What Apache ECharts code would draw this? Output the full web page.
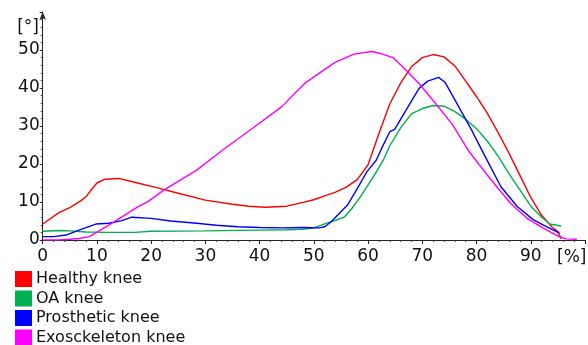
<!DOCTYPE html>
<html>
<head>
<meta charset="utf-8">
<script src="https://cdn.jsdelivr.net/npm/echarts@6/dist/echarts.min.js"></script>
<style>
  html, body { margin: 0; padding: 0; background: #fff; }
  #chart { width: 588px; height: 345px; }
</style>
</head>
<body>
<div id="chart"></div>
<script>
// knee angle over the gait cycle
const seriesNames = ["Healthy knee", "OA knee", "Prosthetic knee", "Exosckeleton knee"];
const seriesColors = ["#ff0000", "#00b050", "#0000ff", "#ff00ff"];

const healthyX = [0, 3, 5, 7, 8, 9, 10, 11.5, 14, 17.5, 21, 25, 30, 35, 38, 41, 45, 48, 50, 52, 54, 56, 58, 60, 62, 64, 66, 68, 70, 72, 74, 76, 78, 80, 82, 84, 86, 88, 90, 92, 94, 95, 95.6];
const healthyY = [4.2, 7.2, 8.5, 10.3, 11.4, 13.3, 15.0, 16.0, 16.2, 15.0, 13.8, 12.3, 10.5, 9.4, 8.9, 8.6, 8.9, 9.9, 10.6, 11.6, 12.6, 13.9, 15.9, 19.8, 28.0, 35.8, 41.3, 45.6, 48.0, 48.8, 48.2, 45.8, 41.8, 37.7, 33.3, 28.2, 22.8, 17.0, 11.2, 6.5, 3.3, 2.2, 0.3];

const oaX = [0, 3, 5, 8, 12, 17, 20, 30, 40, 45, 48, 50, 52.5, 54, 55.6, 57, 58.6, 60, 61, 62.8, 64, 66, 68, 70, 72, 74, 76, 78, 80, 82, 84, 86, 88, 90, 92, 93.5, 95.6];
const oaY = [2.3, 2.5, 2.4, 2.1, 2.0, 2.0, 2.3, 2.4, 2.6, 2.7, 2.8, 3.2, 4.5, 5.2, 6.0, 8.3, 11.4, 14.5, 16.7, 21.0, 24.8, 29.5, 33.2, 34.6, 35.4, 35.2, 33.8, 31.8, 29.3, 26.0, 22.0, 17.4, 13.2, 8.9, 6.0, 4.2, 3.7];

const protX = [0, 2, 4.3, 6.7, 9.8, 12.2, 14.6, 16.4, 20, 23.6, 28.4, 32, 36, 40, 44, 48, 51, 52, 53.2, 54.5, 56.2, 58, 59.8, 61.5, 62.5, 64, 64.9, 67, 69.4, 71, 73, 74.2, 76.7, 79.1, 79.7, 81.5, 84.5, 87.5, 90.5, 92.9, 95.3];
const protY = [0.9, 0.9, 1.3, 2.6, 4.2, 4.4, 5.1, 6.0, 5.7, 5.0, 4.4, 3.9, 3.5, 3.3, 3.2, 3.3, 3.2, 3.5, 4.8, 6.7, 9.2, 13.5, 18.0, 21.0, 24.1, 28.5, 29.1, 34.2, 39.9, 41.8, 42.8, 41.5, 35.1, 28.9, 27.2, 22.2, 14.0, 8.8, 5.3, 3.5, 1.8];

const exoX = [0, 3, 5, 6.7, 8.6, 12.2, 17.6, 19.4, 22.4, 28.4, 33, 38.7, 44.1, 46.5, 48.3, 51.4, 54, 57.4, 60.7, 62.5, 64.6, 67, 69.4, 72.4, 75.5, 78.5, 82.7, 86.3, 89.3, 92.3, 95.2, 96.5, 98.5];
const exoY = [0, 0, 0.2, 0.4, 0.9, 3.9, 8.8, 10.1, 13.2, 18.4, 23.5, 29.4, 35.1, 38.6, 41.2, 44.3, 46.8, 48.9, 49.6, 49.0, 48.0, 44.7, 41.2, 36.0, 30.5, 23.5, 15.8, 9.6, 5.7, 3.1, 0.9, 0.3, 0.2];

const xTickStep = 10;
const yTickStep = 10;

const FONT = "DejaVu Sans";

let pairUp = (xs, ys) => xs.map((x, i) => [x, ys[i]]);

const allData = [
  pairUp(healthyX, healthyY),
  pairUp(oaX, oaY),
  pairUp(protX, protY),
  pairUp(exoX, exoY),
];

const chart = echarts.init(document.getElementById("chart"), null, { renderer: "canvas" });

chart.setOption({
  animation: false,
  backgroundColor: "#fff",
  grid: { left: 42.7, right: -7.7, top: 12, bottom: 105 },
  xAxis: {
    type: "value",
    min: 0,
    max: 100,
    interval: xTickStep,
    axisLine: { lineStyle: { color: "#222", width: 1 } },
    axisTick: { length: 4, lineStyle: { color: "#222" } },
    minorTick: { show: true, splitNumber: 5, length: 2, lineStyle: { color: "#444" } },
    splitLine: { show: false },
    axisLabel: {
      margin: 8,
      color: "#111",
      fontFamily: FONT,
      fontSize: 17,
      formatter: (v) => (v >= 100 ? "" : String(v)),
    },
  },
  yAxis: {
    type: "value",
    min: 0,
    max: 60,
    interval: yTickStep,
    axisLine: {
      show: true,
      symbol: ["none", "arrow"],
      symbolSize: [5, 8],
      lineStyle: { color: "#222", width: 1 },
    },
    axisTick: { show: true, length: 3, lineStyle: { color: "#222" } },
    minorTick: { show: true, splitNumber: 5, length: 2, lineStyle: { color: "#444" } },
    splitLine: { show: false },
    axisLabel: {
      margin: 3,
      color: "#111",
      fontFamily: FONT,
      fontSize: 17,
      showMaxLabel: false,
    },
  },
  legend: {
    orient: "vertical",
    left: 15,
    top: 271,
    height: 120,
    padding: 0,
    icon: "rect",
    itemWidth: 17,
    itemHeight: 16,
    itemGap: 3.5,
    textStyle: { color: "#111", fontFamily: FONT, fontSize: 16, padding: [0, 0, 0, -1] },
    data: seriesNames,
  },
  graphic: [
    {
      type: "text",
      right: 588 - 39,
      top: 19,
      style: { text: "[°]", fill: "#111", font: "17px 'DejaVu Sans'" },
    },
    {
      type: "text",
      left: 557,
      top: 249,
      style: { text: "[%]", fill: "#111", font: "17px 'DejaVu Sans'" },
    },
  ],
  series: allData.map((d, i) => ({
    name: seriesNames[i],
    type: "line",
    data: d,
    showSymbol: false,
    smooth: false,
    color: seriesColors[i],
    lineStyle: { width: 1.4, color: seriesColors[i] },
  })),
});
</script>
</body>
</html>
